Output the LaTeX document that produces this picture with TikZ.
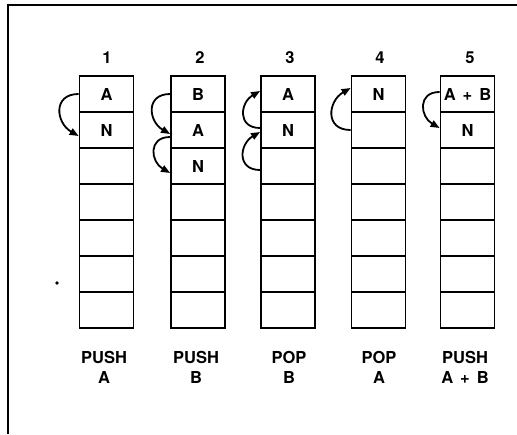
\documentclass[tikz,border=0pt]{standalone}
\usepackage{fontspec}
\setmainfont{TeX Gyre Heros}
\usetikzlibrary{arrows.meta}

\newcommand{\stackfont}{\fontsize{16.5pt}{20pt}\selectfont\bfseries}
\newcommand{\widesp}{\spaceskip=7pt\relax}

\tikzset{
  cell/.style={draw, line width=1.8pt, minimum width=54pt, minimum height=36pt,
               inner sep=0pt},
  stepnum/.style={font=\stackfont, inner sep=0pt},
  oplabel/.style={font=\stackfont\widesp, align=center, inner sep=0pt},
  frameline/.style={line width=1.5pt},
  moveto/.style={line width=1.8pt, -{Triangle[length=9pt,width=7pt]}},
  downarc/.style={moveto, out=180, in=150, looseness=1.6},
  uparc/.style={moveto, out=180, in=210, looseness=1.6}
}

\begin{document}
\begin{tikzpicture}[x=1pt, y=-1pt]
  \useasboundingbox (0,0) rectangle (517,434);

  % open frame: top and left edges
  \coordinate (frameTL) at (8,5);
  \coordinate (frameTR) at (517,5);
  \coordinate (frameBL) at (8,434);
  \draw[frameline] (frameTR) -- (frameTL) -- (frameBL);

  % small speck on the left
  \fill (57,283) circle (1.8pt);

  % five stacks of seven cells each
  \foreach \k/\x in {1/106.5, 2/198, 3/288, 4/378.5, 5/467.5} {
    \foreach \j in {1,...,7} {
      \node[cell] (s\k c\j) at (\x, 58+36*\j) {};
    }
  }

  % cell contents
  \node[stepnum] at (s1c1) {A};
  \node[stepnum] at (s1c2) {N};
  \node[stepnum] at (s2c1) {B};
  \node[stepnum] at (s2c2) {A};
  \node[stepnum] at (s2c3) {N};
  \node[stepnum] at (s3c1) {A};
  \node[stepnum] at (s3c2) {N};
  \node[stepnum] at (s4c1) {N};
  \node[stepnum, font=\stackfont\widesp] at (s5c1) {A + B};
  \node[stepnum] at (s5c2) {N};

  % step numbers
  \node[stepnum] (n1) at (107,58) {1};
  \node[stepnum] (n2) at (200,58) {2};
  \node[stepnum] (n3) at (290,58) {3};
  \node[stepnum] (n4) at (380,58) {4};
  \node[stepnum] (n5) at (470,58) {5};

  % operations
  \node[oplabel] (op1) at (104,367) {PUSH\\A};
  \node[oplabel] (op2) at (196,367) {PUSH\\B};
  \node[oplabel] (op3) at (289,367) {POP\\B};
  \node[oplabel] (op4) at (379,367) {POP\\A};
  \node[oplabel] (op5) at (465,367) {PUSH\\A + B};

  % data movement arrows
  \draw[downarc] (s1c1.west) to ([yshift=-6pt]s1c2.west);
  \draw[downarc] (s2c1.west) to ([yshift=-4pt]s2c2.west);
  \draw[downarc] ([yshift=-7pt]s2c2.west) to ([yshift=-7pt]s2c3.west);
  \draw[uparc] ([yshift=2pt]s3c2.west) to ([yshift=3pt]s3c1.west);
  \draw[uparc] ([yshift=-4pt]s3c3.west) to ([yshift=-2pt]s3c2.west);
  \draw[uparc] (s4c2.west) to ([yshift=6pt]s4c1.west);
  \draw[downarc] ([yshift=2pt]s5c1.west) to ([yshift=2pt]s5c2.west);
\end{tikzpicture}
\end{document}
